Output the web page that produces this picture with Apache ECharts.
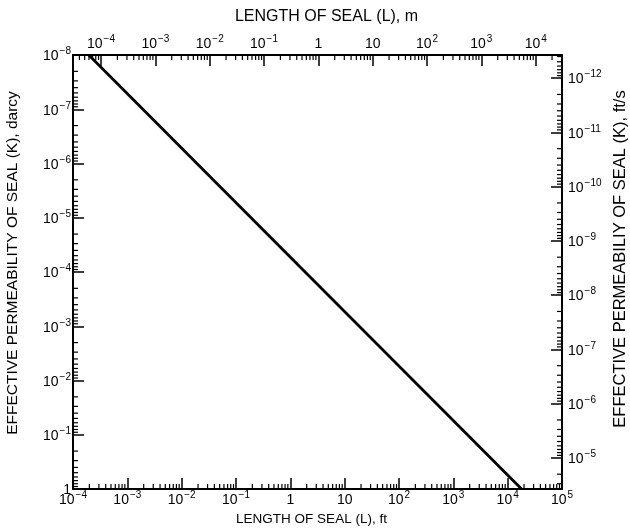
<!DOCTYPE html>
<html>
<head>
<meta charset="utf-8">
<script src="https://cdn.jsdelivr.net/npm/echarts@6/dist/echarts.min.js"></script>
<style>
  html, body { margin: 0; padding: 0; background: #fff; }
  #chart { width: 630px; height: 529px; }
</style>
</head>
<body>
<div id="chart"></div>
<script>
// seal line: length (ft) vs permeability (darcy)
var sealLengthFt = [1.95e-4, 1.8e4];
var sealPermDarcy = [1e-8, 1];

// axis ranges
var lengthFtRange = [1e-4, 1e5];
var permDarcyRange = [1e-8, 1];
var FT_PER_M = 3.2808;          // top axis is metres
var FTPS_PER_DARCY = 3.75e-5;   // right axis is ft/s

// minor tick multipliers in each decade
var minorSteps = [2, 3, 4, 5, 6, 7, 8, 9];

var lengthMRange = [lengthFtRange[0] / FT_PER_M, lengthFtRange[1] / FT_PER_M];
var permFtsRange = [permDarcyRange[0] * FTPS_PER_DARCY, permDarcyRange[1] * FTPS_PER_DARCY];

function minorTicks(range) {
    var out = [];
    var k0 = Math.floor(Math.log10(range[0]));
    var k1 = Math.ceil(Math.log10(range[1]));
    for (var k = k0; k <= k1; k++) {
        for (var i = 0; i < minorSteps.length; i++) {
            var v = minorSteps[i] * Math.pow(10, k);
            if (v > range[0] && v < range[1]) out.push(v);
        }
    }
    return out;
}

function powLabel(v) {
    var e = Math.log10(v);
    var r = Math.round(e);
    if (Math.abs(e - r) > 1e-6) return '';
    if (r === 0) return '{b|1}';
    if (r === 1) return '{b|10}';
    return '{b|10}{s|' + (r < 0 ? '\u2212' + (-r) : r) + '}';
}

var font = 'Liberation Sans, Arial, sans-serif';
var rich = {
    b: { fontSize: 14, fontFamily: font, color: '#000', lineHeight: 17, verticalAlign: 'bottom' },
    s: { fontSize: 10, fontFamily: font, color: '#000', lineHeight: 17, verticalAlign: 'top', padding: [0, 0, 0, 1] }
};
var lineStyle = { color: '#000', width: 2 };

function baseAxis(extra) {
    var ax = {
        type: 'log',
        logBase: 10,
        axisLine: { show: true, onZero: false, lineStyle: lineStyle },
        axisTick: { show: true, inside: true, length: 11, lineStyle: { color: '#000', width: 1.5 } },
        splitLine: { show: false },
        minorTick: { show: false },
        nameLocation: 'middle'
    };
    for (var k in extra) ax[k] = extra[k];
    return ax;
}

function tickSeries(xIdx, yIdx, data, dx, dy) {
    return {
        type: 'custom',
        xAxisIndex: xIdx,
        yAxisIndex: yIdx,
        silent: true,
        clip: false,
        data: data,
        renderItem: function (params, api) {
            var p = api.coord([api.value(0), api.value(1)]);
            return {
                type: 'line',
                shape: { x1: p[0], y1: p[1], x2: p[0] + dx, y2: p[1] + dy },
                style: { stroke: '#000', lineWidth: 1.2 }
            };
        }
    };
}

var chart = echarts.init(document.getElementById('chart'));

var option = {
    backgroundColor: '#fff',
    animation: false,
    grid: { left: 73, right: 68, top: 55, bottom: 40, outerBoundsMode: 'none' },
    xAxis: [
        baseAxis({
            position: 'bottom',
            min: lengthFtRange[0], max: lengthFtRange[1],
            name: 'LENGTH OF SEAL (L), ft',
            nameGap: 21,
            nameTextStyle: { fontSize: 13.5, fontFamily: font, color: '#000', padding: [0, 12, 0, 0] },
            axisLabel: { formatter: powLabel, rich: rich, margin: 1 }
        }),
        baseAxis({
            position: 'top',
            min: lengthMRange[0], max: lengthMRange[1],
            name: 'LENGTH OF SEAL (L), m',
            nameGap: 30,
            nameTextStyle: { fontSize: 16, fontFamily: font, color: '#000', padding: [0, 0, 0, 18] },
            axisLabel: { formatter: powLabel, rich: rich, margin: 4 }
        })
    ],
    yAxis: [
        baseAxis({
            position: 'left',
            inverse: true,
            min: permDarcyRange[0], max: permDarcyRange[1],
            name: 'EFFECTIVE PERMEABILITY OF SEAL (K), darcy',
            nameGap: 52,
            nameRotate: 90,
            nameTextStyle: { fontSize: 15.5, fontFamily: font, color: '#000', padding: [0, 0, 0, 18] },
            axisLabel: { formatter: powLabel, rich: rich, margin: 2 }
        }),
        baseAxis({
            position: 'right',
            inverse: true,
            min: permFtsRange[0], max: permFtsRange[1],
            name: 'EFFECTIVE PERMEABILIY OF SEAL (K), ft/s',
            nameGap: 45,
            nameRotate: 90,
            nameTextStyle: { fontSize: 16.5, fontFamily: font, color: '#000', padding: [0, 0, 0, 26] },
            axisLabel: { formatter: powLabel, rich: rich, margin: 6 }
        })
    ],
    series: [
        tickSeries(0, 0, minorTicks(lengthFtRange).map(function (v) { return [v, permDarcyRange[1]]; }), 0, -5),
        tickSeries(1, 0, minorTicks(lengthMRange).map(function (v) { return [v, permDarcyRange[0]]; }), 0, 5),
        tickSeries(0, 0, minorTicks(permDarcyRange).map(function (v) { return [lengthFtRange[0], v]; }), 5, 0),
        tickSeries(0, 1, minorTicks(permFtsRange).map(function (v) { return [lengthFtRange[1], v]; }), -5, 0),
        {
            type: 'line',
            xAxisIndex: 0,
            yAxisIndex: 0,
            symbol: 'none',
            silent: true,
            lineStyle: { color: '#000', width: 2.8 },
            data: sealLengthFt.map(function (x, i) { return [x, sealPermDarcy[i]]; }),
            z: 5
        }
    ]
};

chart.setOption(option);
</script>
</body>
</html>
